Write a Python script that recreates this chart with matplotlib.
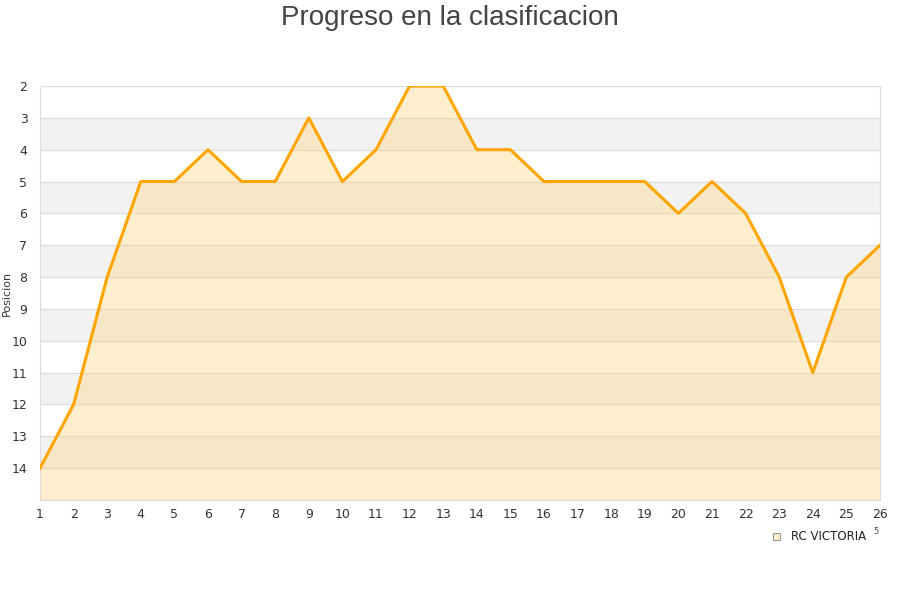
from matplotlib import pyplot as plt
import numpy as np

plt.rcParams["font.family"] = "DejaVu Sans"

jornadas = list(range(1, 27))
posicion = [14, 12, 8, 5, 5, 4, 5, 5, 3, 5, 4, 2, 2, 4, 4, 5, 5, 5, 5, 6, 5, 6, 8, 11, 8, 7]
equipo = "RC VICTORIA"

fig = plt.figure(figsize=(9, 6), dpi=100)
ax = fig.add_axes([40 / 900, 100 / 600, 840 / 900, 414 / 600])

# alternating bands
for y in range(3, 15, 2):
    ax.axhspan(y, y + 1, color="#f2f2f2", zorder=0)
for y in range(2, 15):
    ax.axhline(y, color="#dddddd", lw=0.9, zorder=1)

ax.fill_between(jornadas, posicion, 15, color="#ffd88a", alpha=0.42, lw=0, zorder=2)
ax.plot(jornadas, posicion, color="#ffa500", lw=2.2, zorder=3)

ax.set_xlim(1, 26)
ax.set_ylim(15, 2)
ax.set_xticks(jornadas)
ax.set_yticks(range(2, 15))
ax.tick_params(length=0, labelsize=9, colors="#333333")
ax.tick_params(axis="x", pad=6)
ax.tick_params(axis="y", pad=9)
for s in ax.spines.values():
    s.set_color("#dddddd")

ax.set_ylabel("Posicion", fontsize=8, color="#333333")
ax.yaxis.set_label_coords(-0.034, 0.5)

fig.text(0.5, 1 - 18 / 600, "Progreso en la clasificacion", ha="center", va="center",
         fontsize=20, color="#444444", family="Liberation Sans")

fig.patches.append(plt.Rectangle((773 / 900, 1 - 540 / 600), 7 / 900, 7 / 600,
                                 transform=fig.transFigure, facecolor="#ffedcc",
                                 edgecolor="#999999", lw=0.8))
fig.text(791 / 900, 1 - 536 / 600, equipo, fontsize=8.5, va="center", color="#222222")
fig.text(873 / 900, 1 - 531 / 600, "5", fontsize=6, va="center", color="#444444")

plt.savefig("out.png", dpi=100)
